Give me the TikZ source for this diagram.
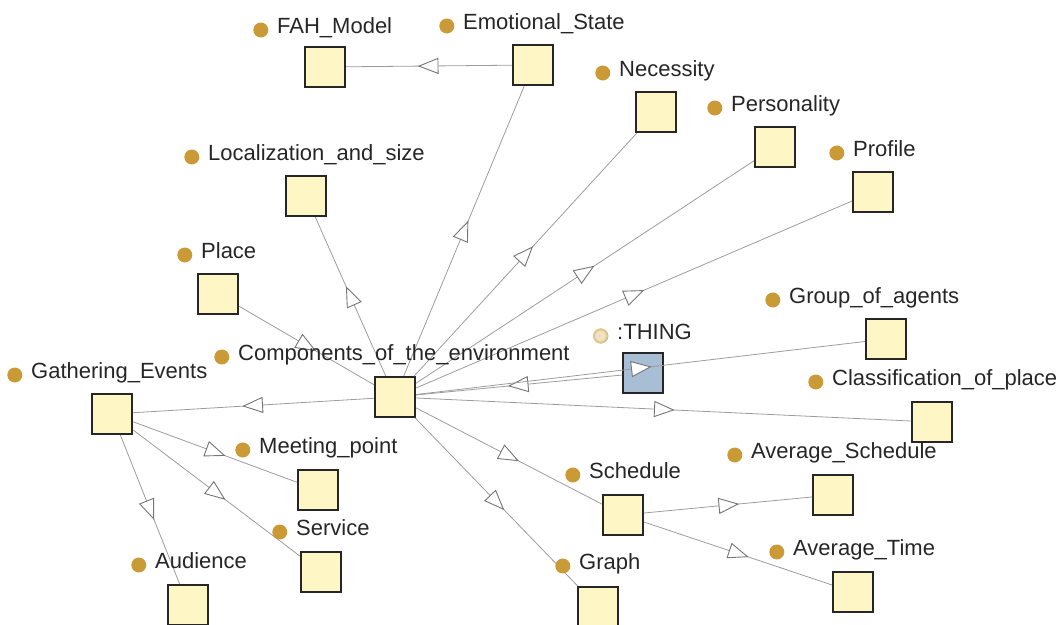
\documentclass[tikz,border=0pt]{standalone}
\usepackage{fontspec}
\setmainfont{Liberation Sans}
\usetikzlibrary{arrows.meta,decorations.markings}

\definecolor{clsfill}{HTML}{FFF6C6}
\definecolor{thingfill}{HTML}{A7BED4}
\definecolor{dotc}{HTML}{C99A35}
\definecolor{edgec}{HTML}{9C9C9C}

\tikzset{
  cls/.style={draw=black!85, line width=2pt, fill=clsfill, minimum size=40pt, inner sep=0pt},
  dot/.style={circle, fill=dotc, inner sep=0pt, minimum size=15pt},
  tag/.style={anchor=west, inner sep=0pt, text height=0.72em, text depth=0pt,
    font=\fontsize{22}{26}\selectfont, text=black!85, label={[dot, label distance=8.5pt]left:{}}},
  isa/.style={draw=edgec, line width=0.8pt, postaction={decorate},
    decoration={markings, mark=at position 0.5 with {
      \draw[edgec!75!black, line width=0.9pt, fill=white] (10pt,0pt) -- (-9pt,7.5pt) -- (-9pt,-7.5pt) -- cycle;}}}
}

\begin{document}
\begin{tikzpicture}[x=1pt, y=-1pt]

\useasboundingbox (0,0) rectangle (1062,624);
\clip (0,0) rectangle (1062,624);

% classes
\node[cls] (fah) at (325,67) {};
\node[cls] (emo) at (533,65) {};
\node[cls] (nec) at (656,112) {};
\node[cls] (pers) at (775,147) {};
\node[cls] (prof) at (873,192) {};
\node[cls] (loc) at (306,196) {};
\node[cls] (place) at (218,294) {};
\node[cls] (comp) at (395,397) {};
\node[cls, fill=thingfill] (thing) at (643,373) {};
\node[cls] (group) at (886,339) {};
\node[cls] (classif) at (932,422) {};
\node[cls] (gath) at (112,414) {};
\node[cls] (meet) at (318,490) {};
\node[cls] (serv) at (321,572) {};
\node[cls] (aud) at (188,605) {};
\node[cls] (sched) at (623,515) {};
\node[cls] (graph) at (598,607) {};
\node[cls] (avgs) at (833,495) {};
\node[cls] (avgt) at (853,592) {};

% subclass edges
\draw[isa] (emo) -- (fah);
\draw[isa] (comp) -- (emo);
\draw[isa] (comp) -- (nec);
\draw[isa] (comp) -- (pers);
\draw[isa] (comp) -- (prof);
\draw[isa] (comp) -- (loc);
\draw[isa] (place) -- (comp);
\draw[isa] (thing) -- (comp);
\draw[isa] (comp) -- (group);
\draw[isa] (comp) -- (classif);
\draw[isa] (comp) -- (gath);
\draw[isa] (comp) -- (sched);
\draw[isa] (comp) -- (graph);
\draw[isa] (gath) -- (meet);
\draw[isa] (gath) -- (serv);
\draw[isa] (gath) -- (aud);
\draw[isa] (sched) -- (avgs);
\draw[isa] (sched) -- (avgt);

% labels
\node[tag] (fahT) at (277,30) {FAH\_Model};
\node[tag] (emoT) at (463,26) {Emotional\_State};
\node[tag] (necT) at (619,73) {Necessity};
\node[tag] (persT) at (731,108) {Personality};
\node[tag] (profT) at (853,153) {Profile};
\node[tag] (locT) at (208,157) {Localization\_and\_size};
\node[tag] (placeT) at (201,255) {Place};
\node[tag] (compT) at (238,357) {Components\_of\_the\_environment};
\node[tag, label={[dot, fill=dotc!30, draw=dotc!55, line width=2pt, minimum size=13pt, label distance=9pt]left:{}}] (thingT) at (617,336) {:THING};
\node[tag] (groupT) at (789,300) {Group\_of\_agents};
\node[tag] (classifT) at (832,382) {Classification\_of\_place};
\node[tag] (gathT) at (31,375) {Gathering\_Events};
\node[tag] (meetT) at (259,450) {Meeting\_point};
\node[tag] (servT) at (296,532) {Service};
\node[tag] (audT) at (155,565) {Audience};
\node[tag] (schedT) at (589,475) {Schedule};
\node[tag] (graphT) at (579,566) {Graph};
\node[tag] (avgsT) at (751,455) {Average\_Schedule};
\node[tag] (avgtT) at (793,552) {Average\_Time};

\end{tikzpicture}
\end{document}
